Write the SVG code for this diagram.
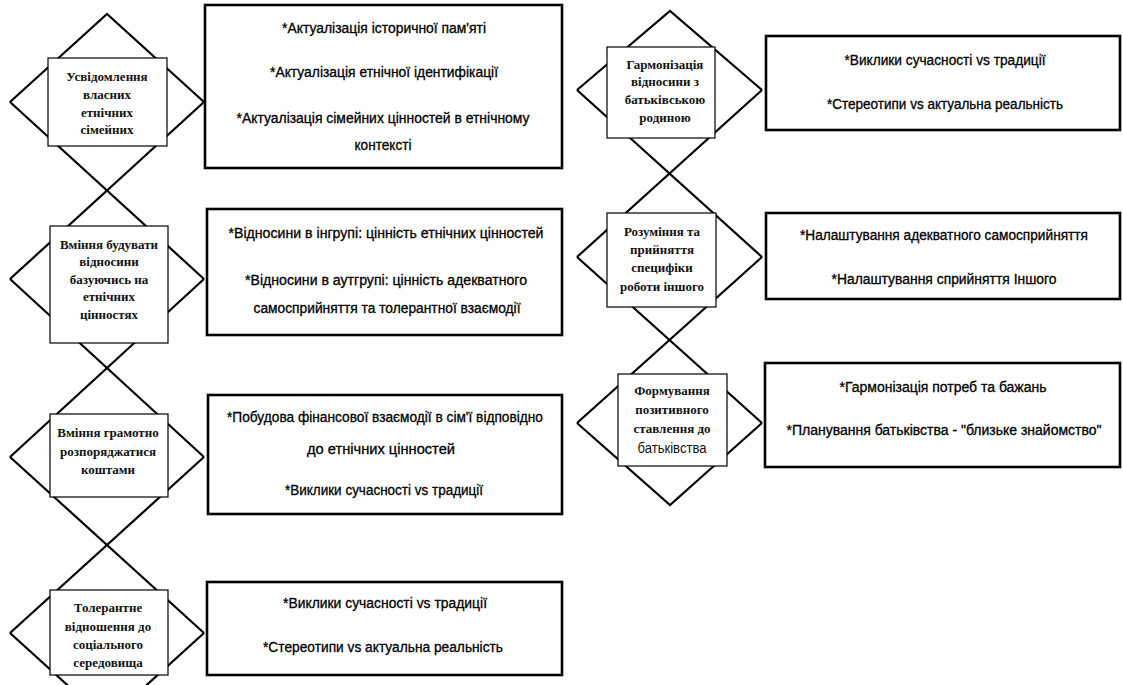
<svg xmlns="http://www.w3.org/2000/svg" width="1123" height="685" viewBox="0 0 1123 685">
<style>
.bg{fill:#fff}
.dia{fill:none;stroke:#000;stroke-width:2.2;stroke-linejoin:miter}
.lbox{fill:#fff;stroke:#000;stroke-width:1.2}
.tbox{fill:#fff;stroke:#000;stroke-width:2.6}
.lt{font-family:"Liberation Serif","Times New Roman",serif;font-weight:bold;font-size:13px;fill:#111;text-anchor:middle}
.ls{font-family:"Liberation Sans",Arial,sans-serif;font-size:14px;fill:#111;text-anchor:middle}
.dt{font-family:"Liberation Sans",Arial,sans-serif;font-size:14px;fill:#000;stroke:#000;stroke-width:0.3;text-anchor:middle}
</style>
<rect class="bg" x="0" y="0" width="1123" height="685"/>

<g id="connectors">
  <line class="dia" x1="10" y1="102" x2="204" y2="279"/>
  <line class="dia" x1="204" y1="102" x2="10" y2="279"/>
  <line class="dia" x1="10" y1="279" x2="204" y2="457"/>
  <line class="dia" x1="204" y1="279" x2="10" y2="457"/>
  <line class="dia" x1="10" y1="457" x2="204" y2="633"/>
  <line class="dia" x1="204" y1="457" x2="10" y2="633"/>
  <line class="dia" x1="577" y1="90" x2="762" y2="257"/>
  <line class="dia" x1="762" y1="90" x2="577" y2="257"/>
  <line class="dia" x1="577" y1="257" x2="762" y2="423"/>
  <line class="dia" x1="762" y1="257" x2="577" y2="423"/>
</g>

<g id="node-l1">
  <path class="dia" d="M10,102 L107,14 L204,102"/>
  <rect class="lbox" x="48" y="58" width="119" height="88"/>
  <text class="lt" x="107" y="81">Усвідомлення</text>
  <text class="lt" x="107" y="99">власних</text>
  <text class="lt" x="107" y="117">етнічних</text>
  <text class="lt" x="107" y="134">сімейних</text>
</g>
<g id="node-l2">
  <rect class="lbox" x="50" y="226" width="118" height="117"/>
  <text class="lt" x="109" y="249">Вміння будувати</text>
  <text class="lt" x="109" y="266">відносини</text>
  <text class="lt" x="109" y="284">базуючись на</text>
  <text class="lt" x="109" y="301">етнічних</text>
  <text class="lt" x="109" y="319">цінностях</text>
</g>
<g id="node-l3">
  <rect class="lbox" x="50" y="414" width="118" height="83"/>
  <text class="lt" x="108" y="437">Вміння грамотно</text>
  <text class="lt" x="108" y="456">розпоряджатися</text>
  <text class="lt" x="108" y="474">коштами</text>
</g>
<g id="node-l4">
  <path class="dia" d="M10,633 L107,721 L204,633"/>
  <rect class="lbox" x="50" y="590" width="118" height="85"/>
  <text class="lt" x="108" y="612">Толерантне</text>
  <text class="lt" x="108" y="631">відношення до</text>
  <text class="lt" x="108" y="649">соціального</text>
  <text class="lt" x="108" y="667">середовища</text>
</g>

<g id="node-r1">
  <path class="dia" d="M577,90 L670,11 L762,90"/>
  <rect class="lbox" x="607" y="47" width="108" height="91"/>
  <text class="lt" x="665" y="69">Гармонізація</text>
  <text class="lt" x="665" y="86">відносини з</text>
  <text class="lt" x="665" y="104">батьківською</text>
  <text class="lt" x="665" y="122">родиною</text>
</g>
<g id="node-r2">
  <rect class="lbox" x="607" y="213" width="109" height="94"/>
  <text class="lt" x="662" y="236">Розуміння та</text>
  <text class="lt" x="662" y="254">прийняття</text>
  <text class="lt" x="662" y="272">специфіки</text>
  <text class="lt" x="662" y="291">роботи іншого</text>
</g>
<g id="node-r3">
  <path class="dia" d="M577,423 L670,505 L762,423"/>
  <rect class="lbox" x="618" y="374" width="109" height="92"/>
  <text class="lt" x="672" y="395">Формування</text>
  <text class="lt" x="672" y="414">позитивного</text>
  <text class="lt" x="672" y="433">ставлення до</text>
  <text class="ls" x="672" y="453" textLength="69" lengthAdjust="spacingAndGlyphs">батьківства</text>
</g>

<g id="box-l1">
  <rect class="tbox" x="205" y="5" width="357" height="163"/>
  <text class="dt" x="384" y="33" textLength="204" lengthAdjust="spacingAndGlyphs">*Актуалізація історичної пам'яті</text>
  <text class="dt" x="384" y="77" textLength="228" lengthAdjust="spacingAndGlyphs">*Актуалізація етнічної ідентифікації</text>
  <text class="dt" x="383" y="123" textLength="293" lengthAdjust="spacingAndGlyphs">*Актуалізація сімейних  цінностей в етнічному</text>
  <text class="dt" x="383" y="150" textLength="57" lengthAdjust="spacingAndGlyphs">контексті</text>
</g>
<g id="box-l2">
  <rect class="tbox" x="207" y="209" width="355" height="126"/>
  <text class="dt" x="386" y="238" textLength="315" lengthAdjust="spacingAndGlyphs">*Відносини в інгрупі: цінність етнічних цінностей</text>
  <text class="dt" x="386" y="285" textLength="282" lengthAdjust="spacingAndGlyphs">*Відносини в аутгрупі: цінність  адекватного</text>
  <text class="dt" x="387" y="313" textLength="267" lengthAdjust="spacingAndGlyphs">самосприйняття та толерантної взаємодії</text>
</g>
<g id="box-l3">
  <rect class="tbox" x="208" y="395" width="354" height="119"/>
  <text class="dt" x="385" y="422" textLength="316" lengthAdjust="spacingAndGlyphs">*Побудова фінансової взаємодії в сім'ї відповідно</text>
  <text class="dt" x="381" y="454" textLength="148" lengthAdjust="spacingAndGlyphs">до етнічних цінностей</text>
  <text class="dt" x="384" y="495" textLength="198" lengthAdjust="spacingAndGlyphs">*Виклики сучасності  vs традиції</text>
</g>
<g id="box-l4">
  <rect class="tbox" x="207" y="582" width="355" height="93"/>
  <text class="dt" x="385" y="608" textLength="204" lengthAdjust="spacingAndGlyphs">*Виклики сучасності  vs традиції</text>
  <text class="dt" x="383" y="652" textLength="240" lengthAdjust="spacingAndGlyphs">*Стереотипи vs актуальна  реальність</text>
</g>

<g id="box-r1">
  <rect class="tbox" x="766" y="36" width="354" height="94"/>
  <text class="dt" x="945" y="65" textLength="201" lengthAdjust="spacingAndGlyphs">*Виклики сучасності  vs традиції</text>
  <text class="dt" x="945" y="109" textLength="236" lengthAdjust="spacingAndGlyphs">*Стереотипи vs актуальна  реальність</text>
</g>
<g id="box-r2">
  <rect class="tbox" x="766" y="213" width="354" height="86"/>
  <text class="dt" x="944" y="240" textLength="288" lengthAdjust="spacingAndGlyphs">*Налаштування  адекватного самосприйняття</text>
  <text class="dt" x="944" y="284" textLength="225" lengthAdjust="spacingAndGlyphs">*Налаштування  сприйняття  Іншого</text>
</g>
<g id="box-r3">
  <rect class="tbox" x="765" y="363" width="355" height="104"/>
  <text class="dt" x="943" y="392" textLength="207" lengthAdjust="spacingAndGlyphs">*Гармонізація потреб та бажань</text>
  <text class="dt" x="944" y="435" textLength="315" lengthAdjust="spacingAndGlyphs">*Планування батьківства  - "близьке знайомство"</text>
</g>
</svg>
